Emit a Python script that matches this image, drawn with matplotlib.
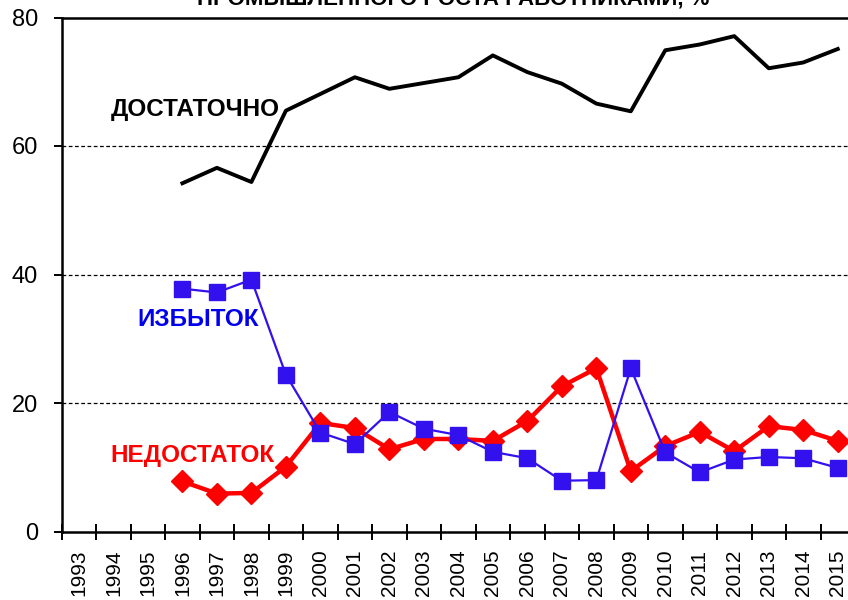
import matplotlib
matplotlib.use("Agg")
import matplotlib.pyplot as plt
import numpy as np
from matplotlib.ticker import FixedLocator

years = [str(y) for y in range(1993, 2016)]
data_years = list(range(1996, 2016))
enough = [54.2, 56.6, 54.4, 65.5, 68.1, 70.7, 68.9, 69.8, 70.7, 74.1,
          71.5, 69.7, 66.6, 65.4, 74.9, 75.8, 77.1, 72.1, 73.0, 75.1]
surplus = [37.8, 37.2, 39.2, 24.4, 15.4, 13.6, 18.6, 16.0, 15.0, 12.4,
           11.4, 7.9, 8.0, 25.4, 12.3, 9.2, 11.2, 11.6, 11.4, 9.9]
shortage = [7.8, 5.9, 6.0, 10.1, 16.9, 16.1, 12.8, 14.4, 14.4, 14.1,
            17.2, 22.6, 25.4, 9.4, 13.3, 15.5, 12.5, 16.4, 15.8, 14.1]
title = "ПРОМЫШЛЕННОГО РОСТА РАБОТНИКАМИ, %"
lbl_enough, lbl_surplus, lbl_shortage = "ДОСТАТОЧНО", "ИЗБЫТОК", "НЕДОСТАТОК"

plt.rcParams['font.family'] = ['Liberation Sans', 'DejaVu Sans']

fig = plt.figure(figsize=(8.48, 6.0), dpi=100)
W, H = 848, 600
left, right, top, bottom = 61.7, 855, 17.5, 531.5
ax = fig.add_axes([left / W, (H - bottom) / H, (right - left) / W, (bottom - top) / H])

xpos = [years.index(str(y)) for y in data_years]

ax.plot(xpos, enough, color='black', lw=2.8, zorder=3)
ax.plot(xpos, shortage, color='#ff0000', lw=3.2, marker='D', markersize=11,
        markeredgecolor='#ff0000', zorder=4)
ax.plot(xpos, surplus, color='#3311ee', lw=1.6, marker='s', markersize=11,
        markeredgecolor='#3311ee', zorder=5)

ax.set_xlim(-0.5, len(years) - 0.5)
ax.set_ylim(0, 80)
ax.set_yticks([0, 20, 40, 60, 80])
ax.tick_params(axis='y', direction='out', length=6, width=1.4, labelsize=17, pad=11)

ax.set_xticks(range(len(years)))
ax.set_xticklabels(years, rotation=90, fontsize=15)
ax.xaxis.set_minor_locator(FixedLocator(np.arange(-0.5, len(years), 1.0)))
ax.tick_params(axis='x', which='major', length=0, pad=13)
ax.tick_params(axis='x', which='minor', direction='inout', length=12, width=1.4)

for v in [20, 40, 60]:
    ax.axhline(v, color='black', lw=0.9, ls=(0, (3, 2)), zorder=1)

for s in ['left', 'bottom', 'top']:
    ax.spines[s].set_linewidth(1.8)
ax.spines['right'].set_visible(False)

ax.text(0.92, 65.65, lbl_enough, color='black', fontsize=17.5, fontweight='bold',
        ha='left', va='center')
ax.text(1.69, 33.0, lbl_surplus, color='#0000ee', fontsize=17.5, fontweight='bold',
        ha='left', va='center')
ax.text(0.90, 11.86, lbl_shortage, color='#ff0000', fontsize=17.5, fontweight='bold',
        ha='left', va='center')

fig.text(453 / W, 1 - 5 / H, title, fontsize=16, fontweight='bold',
         ha='center', va='baseline')

fig.savefig("out.png", dpi=100)
